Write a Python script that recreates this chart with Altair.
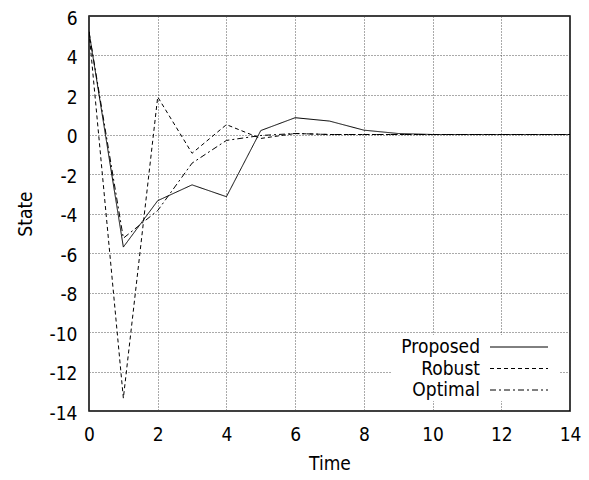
import altair as alt
import pandas as pd

times = list(range(15))
proposed = [5.2, -5.7, -3.35, -2.55, -3.15, 0.2, 0.85, 0.68, 0.22, 0.05, 0.0, 0.0, 0.0, 0.0, 0.0]
robust = [5.2, -13.35, 1.9, -0.95, 0.5, -0.2, 0.05, 0.0, 0.0, 0.0, 0.0, 0.0, 0.0, 0.0, 0.0]
optimal = [5.2, -5.25, -3.85, -1.45, -0.3, -0.05, 0.05, 0.0, 0.0, 0.0, 0.0, 0.0, 0.0, 0.0, 0.0]
series_names = ["Proposed", "Robust", "Optimal"]
dashes = [[1, 0], [4, 3], [6, 3, 2, 3]]

rows = []
for name, vals in zip(series_names, [proposed, robust, optimal]):
    for t, v in zip(times, vals):
        rows.append({"Time": t, "State": v, "series": name})
df = pd.DataFrame(rows)
leg = pd.DataFrame({"series": series_names, "idx": list(range(3))})

FONT = "DejaVu Sans Condensed, Liberation Sans, sans-serif"

dash_scale = alt.Scale(domain=series_names, range=dashes)

lines = alt.Chart(df).mark_line(color="black", strokeWidth=1, clip=True).encode(
    x=alt.X("Time:Q", scale=alt.Scale(domain=[0, 14], nice=False),
            axis=alt.Axis(values=list(range(0, 15, 2)), title="Time",
                          labelExpr="toString(datum.value)")),
    y=alt.Y("State:Q", scale=alt.Scale(domain=[-14, 6], nice=False),
            axis=alt.Axis(values=list(range(-14, 7, 2)), title="State",
                          labelExpr="toString(datum.value)")),
    strokeDash=alt.StrokeDash("series:N", scale=dash_scale, legend=None),
    detail="series:N",
)

bg = alt.Chart(leg).mark_rect(color="white").encode(
    x=alt.value(303), x2=alt.value(471), y=alt.value(319), y2=alt.value(385)
)

legtext = alt.Chart(leg).transform_calculate(ly="331 + 21.5*datum.idx").mark_text(
    align="right", baseline="middle", font=FONT, fontSize=19, color="black"
).encode(
    x=alt.value(391),
    y=alt.Y("ly:Q", scale=None),
    text="series:N",
)

legline = alt.Chart(leg).transform_calculate(ly="331 + 21.5*datum.idx").mark_rule(
    color="black", strokeWidth=1
).encode(
    x=alt.value(401), x2=alt.value(459),
    y=alt.Y("ly:Q", scale=None),
    strokeDash=alt.StrokeDash("series:N", scale=dash_scale, legend=None),
)

chart = alt.layer(lines, bg, legtext, legline).properties(
    width=481, height=395,
    autosize=alt.AutoSizeParams(type="none"),
    padding={"left": 81, "top": 8, "right": 11, "bottom": 61},
).configure_view(
    stroke="black", strokeWidth=1.5
).configure_axis(
    labelFont=FONT, titleFont=FONT, labelFontSize=19, titleFontSize=19,
    titleFontWeight="normal", labelColor="black", titleColor="black",
    grid=True, gridColor="#444", gridDash=[1, 2], gridWidth=1, gridOpacity=0.9,
    domain=False, ticks=False, labelFlush=False,
).configure_axisY(
    labelPadding=12, titlePadding=14, labelOffset=2,
).configure_axisX(
    labelPadding=14, titlePadding=10,
)

chart.save("out.html", embed_options={"renderer": "svg", "actions": False})
